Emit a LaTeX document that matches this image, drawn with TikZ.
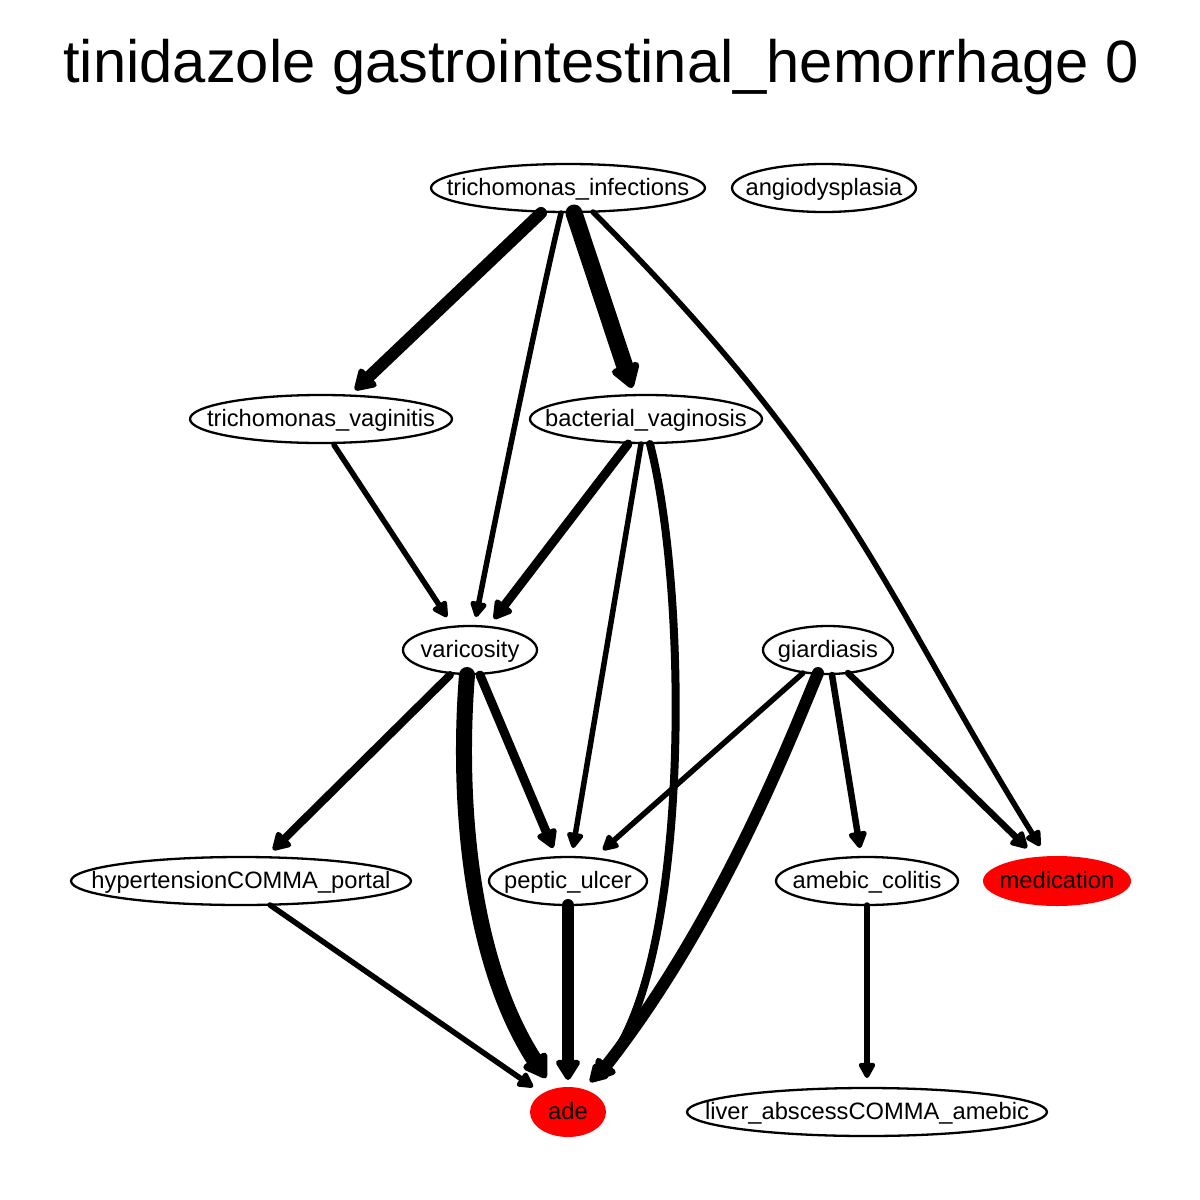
\documentclass[tikz,border=0pt]{standalone}
\usepackage{fontspec}
\setmainfont{Liberation Sans}
\usetikzlibrary{shapes.geometric,arrows.meta,calc}
\newcommand\nlbl[1]{\makebox[0pt]{#1}}
\begin{document}
\begin{tikzpicture}[x=1pt,y=-1pt,
  nd/.style={ellipse, draw, line width=2.3pt, inner sep=0pt, minimum height=48pt,
    text height=18pt, text depth=4pt, font=\fontsize{23.7}{24}\selectfont},
  rednd/.style={nd, draw=none, fill=red},
  tp/.style 2 args={-{Triangle[length=#1,width=#2,round]}},
  ed/.style={line width=#1, line cap=round},
  ed/.default=5.5pt]
\useasboundingbox (0,0) rectangle (1200,1200);
\node[font=\fontsize{59.7}{60}\selectfont, anchor=base] (title) at (601,82) {tinidazole gastrointestinal\_hemorrhage 0};
% nodes
\node[nd, minimum width=274pt] (ti) at (568,188) {\nlbl{trichomonas\_infections}};
\node[nd, minimum width=184pt] (an) at (824,188) {\nlbl{angiodysplasia}};
\node[nd, minimum width=262pt] (tv) at (321,419) {\nlbl{trichomonas\_vaginitis}};
\node[nd, minimum width=232pt] (bv) at (646,419) {\nlbl{bacterial\_vaginosis}};
\node[nd, minimum width=134pt] (va) at (470,650) {\nlbl{varicosity}};
\node[nd, minimum width=130pt] (gi) at (828,650) {\nlbl{giardiasis}};
\node[nd, minimum width=340pt] (hy) at (241,881) {\nlbl{hypertensionCOMMA\_portal}};
\node[nd, minimum width=158pt] (pu) at (568,881) {\nlbl{peptic\_ulcer}};
\node[nd, minimum width=182pt] (ac) at (867,881) {\nlbl{amebic\_colitis}};
\node[rednd, minimum width=148pt, minimum height=50pt] (me) at (1057,881) {\nlbl{medication}};
\node[rednd, minimum width=76pt, minimum height=50pt] (ad) at (568,1112) {\nlbl{ade}};
\node[nd, minimum width=360pt] (la) at (867,1112) {\nlbl{liver\_abscessCOMMA\_amebic}};
% edges
\draw[ed=12pt, tp={23pt}{27pt}] ($(ti)+(-27,25)$) -- ($(tv)+(34,-29)$);
\draw[ed, tp={18pt}{18pt}] ($(ti)+(-7,25)$) .. controls (540,300) and (495,520) .. ($(va)+(6,-33)$);
\draw[ed=17pt, tp={27pt}{32pt}] ($(ti)+(6,25)$) -- ($(bv)+(-14,-31)$);
\draw[ed, tp={18pt}{18pt}] ($(ti)+(25,24)$) .. controls (853,473) and (882,591) .. ($(me)+(-17,-35)$);
\draw[ed, tp={18pt}{18pt}] ($(tv)+(13,26)$) -- ($(va)+(-23,-33)$);
\draw[ed=9pt, tp={21pt}{23pt}] ($(bv)+(-18,25)$) -- ($(va)+(24,-31)$);
\draw[ed, tp={18pt}{18pt}] ($(bv)+(-5,25)$) -- ($(pu)+(5,-33)$);
\draw[ed=8pt, tp={20pt}{22pt}] ($(bv)+(4,25)$) .. controls (690,600) and (690,980) .. ($(ad)+(22,-30)$);
\draw[ed=8pt, tp={20pt}{22pt}] ($(va)+(-20,25)$) -- ($(hy)+(32,-31)$);
\draw[ed=16pt, tp={26pt}{31pt}] ($(va)+(-3,25)$) .. controls (457,800) and (470,960) .. ($(ad)+(-22,-34)$);
\draw[ed=9pt, tp={21pt}{23pt}] ($(va)+(10,25)$) -- ($(pu)+(-15,-33)$);
\draw[ed, tp={18pt}{18pt}] ($(gi)+(-25,23)$) -- ($(pu)+(35,-31)$);
\draw[ed=12pt, tp={23pt}{27pt}] ($(gi)+(-10,23)$) .. controls (790,740) and (720,920) .. ($(ad)+(27,-32)$);
\draw[ed=6.5pt, tp={19pt}{20pt}] ($(gi)+(4,25)$) -- ($(ac)+(-7,-33)$);
\draw[ed=6.5pt, tp={19pt}{20pt}] ($(gi)+(20,23)$) -- ($(me)+(-30,-33)$);
\draw[ed, tp={18pt}{18pt}] ($(hy)+(29,24)$) -- ($(ad)+(-35,-25)$);
\draw[ed=12pt, tp={23pt}{27pt}] ($(pu)+(0,24)$) -- ($(ad)+(0,-32)$);
\draw[ed, tp={18pt}{18pt}] ($(ac)+(0,24)$) -- ($(la)+(0,-34)$);
\end{tikzpicture}
\end{document}
